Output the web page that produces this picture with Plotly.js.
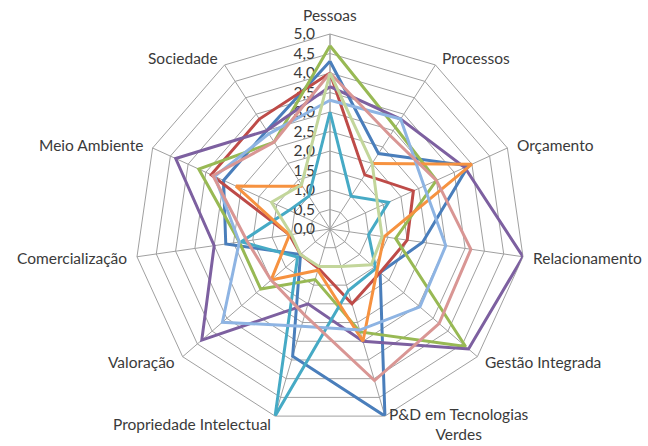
<!DOCTYPE html>
<html>
<head>
<meta charset="utf-8">
<script src="https://cdn.plot.ly/plotly-3.0.1.min.js"></script>
<style>html,body{margin:0;padding:0;background:#fff;}#chart{width:648px;height:446px;}</style>
</head>
<body>
<div id="chart"></div>
<script>
var categories = ["Pessoas", "Processos", "Orçamento", "Relacionamento", "Gestão Integrada",
  "P&D em Tecnologias<br>Verdes", "Propriedade Intelectual", "Valoração", "Comercialização",
  "Meio Ambiente", "Sociedade"];

var serieAzul        = [4.3, 2.3, 3.9, 2.4, 1.7, 5.0, 3.4, 1.0, 2.7, 3.0, 3.0];
var serieVermelha    = [4.0, 1.65, 2.35, 2.0, 1.7, 2.0, 1.05, 1.0, 1.05, 3.35, 3.35];
var serieVerde       = [4.7, 3.1, 3.0, 1.7, 4.6, 2.75, 1.35, 2.35, 2.35, 3.7, 2.65];
var serieRoxa        = [3.65, 3.35, 3.8, 5.0, 4.7, 3.0, 2.0, 4.35, 3.0, 4.35, 3.0];
var serieTurquesa    = [3.0, 1.0, 1.65, 1.0, 1.55, 1.65, 5.0, 1.1, 2.3, 1.15, 1.0];
var serieLaranja     = [null, 2.0, 4.0, 1.4, 1.6, 3.0, 1.1, 2.0, 1.05, 2.65, 1.3];
var serieAzulClaro   = [3.3, 3.35, 2.65, 3.0, 3.05, 2.7, 2.6, 3.65, 2.35, 3.25, 2.9];
var serieRosa        = [4.0, 2.85, 3.0, 3.65, 3.7, 4.05, 2.3, 2.0, 2.15, 3.3, 2.65];
var serieVerdeClaro  = [4.0, 2.0, 1.35, 1.35, 1.4, 1.0, 1.0, 1.0, 1.0, 1.65, 1.35];

var radialTicks = [0, 0.5, 1, 1.5, 2, 2.5, 3, 3.5, 4, 4.5, 5];

var series = [serieAzul, serieVermelha, serieVerde, serieRoxa, serieTurquesa,
  serieLaranja, serieAzulClaro, serieRosa, serieVerdeClaro];
var colors = ["#4A7EBB", "#BE4B48", "#98B954", "#7D60A0", "#46AAC5",
  "#F69240", "#8EB4E3", "#D99694", "#C3D69B"];

var traces = series.map(function (vals, i) {
  return {
    type: "scatterpolar",
    mode: "lines",
    r: vals.concat([vals[0]]),
    theta: categories.concat([categories[0]]),
    line: {color: colors[i], width: 3},
    connectgaps: false,
    hoverinfo: "skip",
    showlegend: false
  };
});

// geometry of the polar area (matches margins below)
var W = 648, H = 446;
var M = {l: 135, r: 123, t: 34, b: 22};
var plotW = W - M.l - M.r, plotH = H - M.t - M.b;
var textColor = "#3A3A3A";
var fontFam = "Lato, 'Open Sans', sans-serif";

// category labels placed just outside each spoke of the polygon
var pad = 8 / plotW;
var annotations = categories.map(function (c, k) {
  var a = 2 * Math.PI * k / categories.length;
  var s = Math.sin(a), co = Math.cos(a);
  var rr = 0.5 + pad;
  var xa = "center", ya = "middle";
  if (s > 0.1) xa = "left"; else if (s < -0.1) xa = "right";
  if (k === 0) ya = "bottom";
  return {
    xref: "paper", yref: "paper",
    x: 0.5 + rr * s, y: 0.5 + rr * co,
    text: c, showarrow: false, xanchor: xa, yanchor: ya, align: "center",
    font: {family: fontFam, size: 15.5, color: textColor}
  };
});

var gridColor = "#A0A0A0";
var layout = {
  width: W, height: H,
  margin: M,
  paper_bgcolor: "#ffffff",
  separators: ",.",
  font: {family: fontFam, size: 15, color: textColor},
  showlegend: false,
  annotations: annotations,
  polar: {
    bgcolor: "#ffffff",
    gridshape: "linear",
    domain: {x: [0, 1], y: [0, 1]},
    radialaxis: {
      range: [0, 5],
      tickvals: radialTicks,
      tickformat: ".1f",
      angle: 90,
      tickangle: 90,
      side: "counterclockwise",
      showline: true,
      linecolor: gridColor,
      linewidth: 1,
      gridcolor: gridColor,
      gridwidth: 1,
      ticks: "outside",
      ticklen: 9,
      tickcolor: "rgba(0,0,0,0)",
      layer: "below traces",
      tickfont: {family: fontFam, size: 15.5, color: textColor}
    },
    angularaxis: {
      rotation: 90,
      direction: "clockwise",
      type: "category",
      categoryarray: categories,
      showline: true,
      linecolor: gridColor,
      linewidth: 1,
      gridcolor: gridColor,
      gridwidth: 1,
      ticks: "",
      showticklabels: false,
      layer: "below traces"
    }
  }
};

Plotly.newPlot("chart", traces, layout, {displayModeBar: false, staticPlot: true});
</script>
</body>
</html>
